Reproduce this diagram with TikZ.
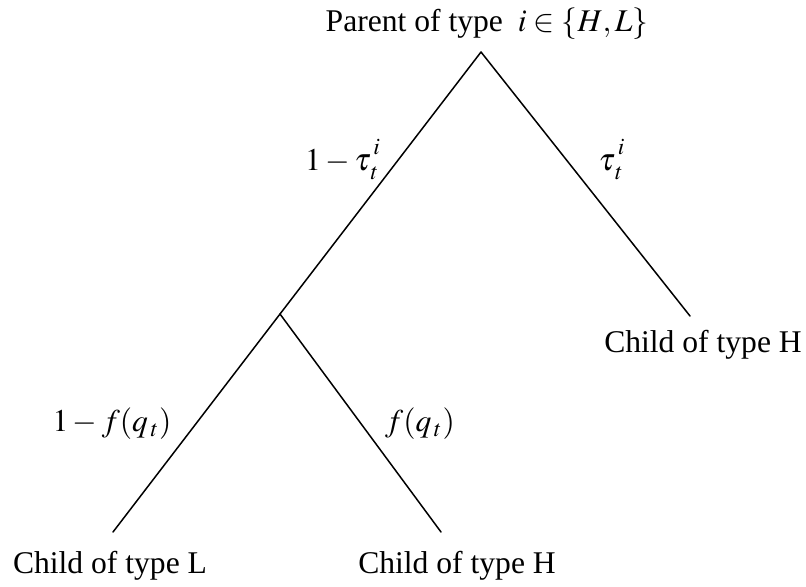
\documentclass[tikz,border=0pt]{standalone}
\usepackage{mathptmx}
\usepackage{fontspec}
\setmainfont{Liberation Serif}
\usetikzlibrary{positioning}
\newcommand{\tauti}{\tau^{\,i\vphantom{g}}_{\,t\vphantom{X}}}
\tikzset{
  every picture/.style={font=\fontsize{15.8}{19}\selectfont, line width=0.75pt},
  branch/.style={draw=black, line cap=round},
  label/.style={inner sep=0pt, align=center},
  leaf/.style={inner sep=0pt, anchor=center},
}

\begin{document}
\begin{tikzpicture}[x=0.5pt, y=-0.5pt]
  \useasboundingbox (0,0) rectangle (806,586);
  % tree points
  \coordinate (top) at (481,52);
  \coordinate (mid) at (280,314);
  \coordinate (rH) at (690,316);
  \coordinate (lL) at (113,532);
  \coordinate (lH) at (441,532);
  \draw[branch] (top) -- (rH);
  \draw[branch] (top) -- (mid);
  \draw[branch] (mid) -- (lL);
  \draw[branch] (mid) -- (lH);
  % texts
  \node[label] (parent) at (487,24) {Parent of type $\;i\in\{H,L\}$};
  \node[label] (p1) at (343,160) {$1-\tauti$};
  \node[label] (p2) at (612,160) {$\tauti$};
  \node[label] (q1) at (112,424) {$1-f(q_{\,t})$};
  \node[label] (q2) at (420,424) {$f(q_{\,t})$};
  \node[leaf] (cH1) at (703,345) {Child of type H};
  \node[leaf] (cL) at (110,566) {Child of type L};
  \node[leaf] (cH2) at (457,566) {Child of type H};
\end{tikzpicture}
\end{document}
